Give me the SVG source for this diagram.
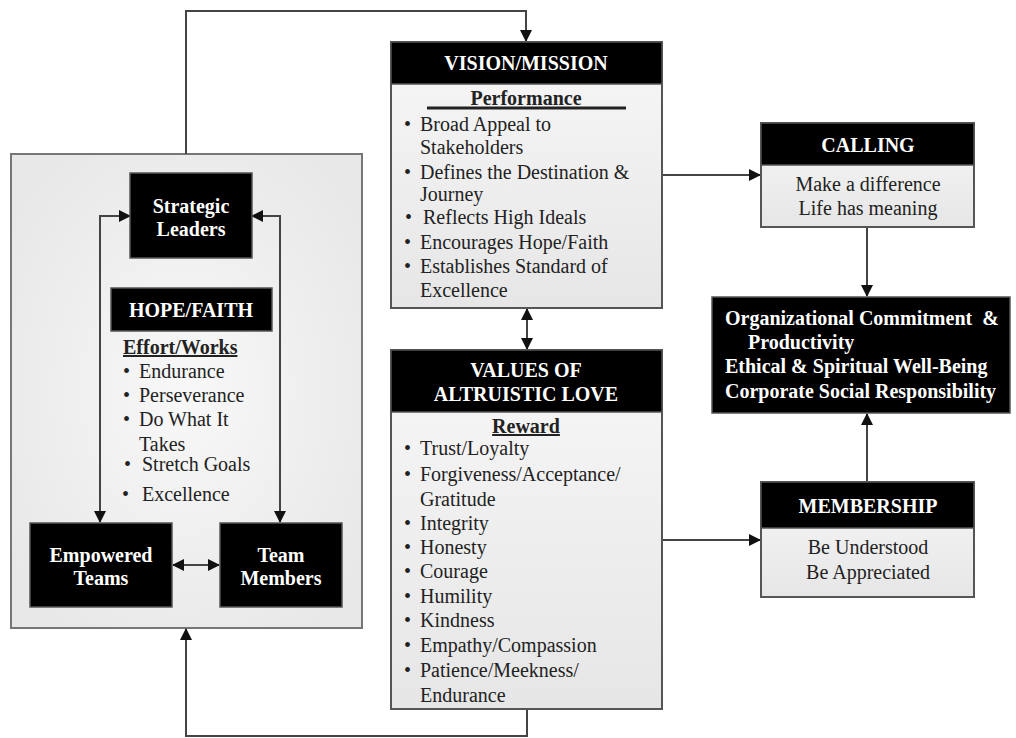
<svg xmlns="http://www.w3.org/2000/svg" width="1016" height="738" viewBox="0 0 1016 738">
<style>
text{font-family:"Liberation Serif","Times New Roman",serif;font-size:20px;}
.hd{fill:#fff;font-weight:bold;text-anchor:middle;}
.hl{fill:#fff;font-weight:bold;}
.tx{fill:#222;}
.c{fill:#222;text-anchor:middle;}
.sub{fill:#222;font-weight:bold;text-anchor:middle;}
.blk{fill:#000;stroke:#555;stroke-width:1.5;}
.body{fill:url(#bodyGrad);stroke:#555;stroke-width:2;}
.con{fill:none;stroke:#444;stroke-width:2;}
</style>
<defs>
<linearGradient id="bodyGrad" x1="0" y1="0" x2="0" y2="1">
<stop offset="0" stop-color="#f7f7f7"/>
<stop offset="1" stop-color="#e6e6e6"/>
</linearGradient>
<radialGradient id="panelGrad" cx="0.5" cy="0.5" r="0.6">
<stop offset="0" stop-color="#f8f8f8"/>
<stop offset="1" stop-color="#e8e8e8"/>
</radialGradient>
<marker id="ah" markerUnits="userSpaceOnUse" markerWidth="12" markerHeight="12" refX="11" refY="6" orient="auto-start-reverse" viewBox="0 0 12 12">
<path d="M0,0 L12,6 L0,12 z" fill="#111"/>
</marker>
</defs>

<g id="panel">
<rect x="11" y="154" width="351" height="474" fill="url(#panelGrad)" stroke="#777" stroke-width="2"/>
</g>

<g id="connectors">
<path class="con" d="M186,154 V11 H526 V41" marker-end="url(#ah)"/>
<path class="con" d="M527,709 V736 H186 V629" marker-end="url(#ah)"/>
<path class="con" d="M527,309 V349" marker-start="url(#ah)" marker-end="url(#ah)"/>
<path class="con" d="M662,175 H760" marker-end="url(#ah)"/>
<path class="con" d="M662,540 H760" marker-end="url(#ah)"/>
<path class="con" d="M867,227 V296" marker-end="url(#ah)"/>
<path class="con" d="M867,482 V414" marker-end="url(#ah)"/>
<path class="con" d="M130,216 H100 V522" marker-start="url(#ah)" marker-end="url(#ah)"/>
<path class="con" d="M252,216 H280 V522" marker-start="url(#ah)" marker-end="url(#ah)"/>
<path class="con" d="M173,565 H219" marker-start="url(#ah)" marker-end="url(#ah)"/>
</g>

<g id="strategic-leaders">
<rect class="blk" x="130" y="173" width="122" height="85"/>
<text class="hd" x="191" y="213">Strategic</text>
<text class="hd" x="191" y="236">Leaders</text>
</g>

<g id="hope-faith">
<rect class="blk" x="111" y="288" width="161" height="43"/>
<text class="hd" x="191" y="317">HOPE/FAITH</text>
<text class="tx" x="123" y="354" font-weight="bold" text-decoration="underline">Effort/Works</text>
<text class="tx" x="123" y="378">•</text><text class="tx" x="139" y="378">Endurance</text>
<text class="tx" x="123" y="402">•</text><text class="tx" x="139" y="402">Perseverance</text>
<text class="tx" x="123" y="426">•</text><text class="tx" x="139" y="426">Do What It</text>
<text class="tx" x="139" y="451">Takes</text>
<text class="tx" x="124" y="471">•</text><text class="tx" x="142" y="471">Stretch Goals</text>
<text class="tx" x="122" y="501">•</text><text class="tx" x="142" y="501">Excellence</text>
</g>

<g id="empowered-teams">
<rect class="blk" x="30" y="523" width="142" height="84"/>
<text class="hd" x="101" y="562">Empowered</text>
<text class="hd" x="101" y="585">Teams</text>
</g>

<g id="team-members">
<rect class="blk" x="220" y="523" width="122" height="84"/>
<text class="hd" x="281" y="562">Team</text>
<text class="hd" x="281" y="585">Members</text>
</g>

<g id="vision-mission">
<rect class="body" x="391" y="42" width="271" height="266"/>
<rect class="blk" x="391" y="42" width="271" height="42"/>
<text class="hd" x="526" y="70">VISION/MISSION</text>
<text class="sub" x="526" y="105">Performance</text>
<line x1="427" y1="108" x2="626" y2="108" stroke="#222" stroke-width="3"/>
<text class="tx" x="404" y="131">•</text><text class="tx" x="420" y="131">Broad Appeal to</text>
<text class="tx" x="420" y="154">Stakeholders</text>
<text class="tx" x="404" y="179">•</text><text class="tx" x="420" y="179">Defines the Destination &amp;</text>
<text class="tx" x="420" y="201">Journey</text>
<text class="tx" x="405" y="224">•</text><text class="tx" x="423" y="224">Reflects High Ideals</text>
<text class="tx" x="404" y="249">•</text><text class="tx" x="420" y="249">Encourages Hope/Faith</text>
<text class="tx" x="404" y="273">•</text><text class="tx" x="420" y="273">Establishes Standard of</text>
<text class="tx" x="420" y="297">Excellence</text>
</g>

<g id="values">
<rect class="body" x="391" y="350" width="271" height="359"/>
<rect class="blk" x="391" y="350" width="271" height="62"/>
<text class="hd" x="526" y="377">VALUES OF</text>
<text class="hd" x="526" y="401">ALTRUISTIC LOVE</text>
<text class="sub" x="526" y="433" text-decoration="underline">Reward</text>
<text class="tx" x="404" y="455">•</text><text class="tx" x="420" y="455">Trust/Loyalty</text>
<text class="tx" x="404" y="481">•</text><text class="tx" x="420" y="481">Forgiveness/Acceptance/</text>
<text class="tx" x="420" y="506">Gratitude</text>
<text class="tx" x="404" y="530">•</text><text class="tx" x="420" y="530">Integrity</text>
<text class="tx" x="404" y="554">•</text><text class="tx" x="420" y="554">Honesty</text>
<text class="tx" x="404" y="578">•</text><text class="tx" x="420" y="578">Courage</text>
<text class="tx" x="404" y="603">•</text><text class="tx" x="420" y="603">Humility</text>
<text class="tx" x="404" y="627">•</text><text class="tx" x="420" y="627">Kindness</text>
<text class="tx" x="404" y="652">•</text><text class="tx" x="420" y="652">Empathy/Compassion</text>
<text class="tx" x="404" y="677">•</text><text class="tx" x="420" y="677">Patience/Meekness/</text>
<text class="tx" x="420" y="702">Endurance</text>
</g>

<g id="calling">
<rect class="body" x="761" y="123" width="213" height="104"/>
<rect class="blk" x="761" y="123" width="213" height="42"/>
<text class="hd" x="868" y="152">CALLING</text>
<text class="c" x="868" y="191">Make a difference</text>
<text class="c" x="868" y="215">Life has meaning</text>
</g>

<g id="outcomes">
<rect class="blk" x="712" y="297" width="298" height="116"/>
<text class="hl" x="725" y="325" xml:space="preserve">Organizational Commitment  &amp;</text>
<text class="hl" x="748" y="349">Productivity</text>
<text class="hl" x="725" y="373">Ethical &amp; Spiritual Well-Being</text>
<text class="hl" x="725" y="398">Corporate Social Responsibility</text>
</g>

<g id="membership">
<rect class="body" x="761" y="482" width="213" height="115"/>
<rect class="blk" x="761" y="482" width="213" height="46"/>
<text class="hd" x="868" y="513">MEMBERSHIP</text>
<text class="c" x="868" y="554">Be Understood</text>
<text class="c" x="868" y="579">Be Appreciated</text>
</g>
</svg>
